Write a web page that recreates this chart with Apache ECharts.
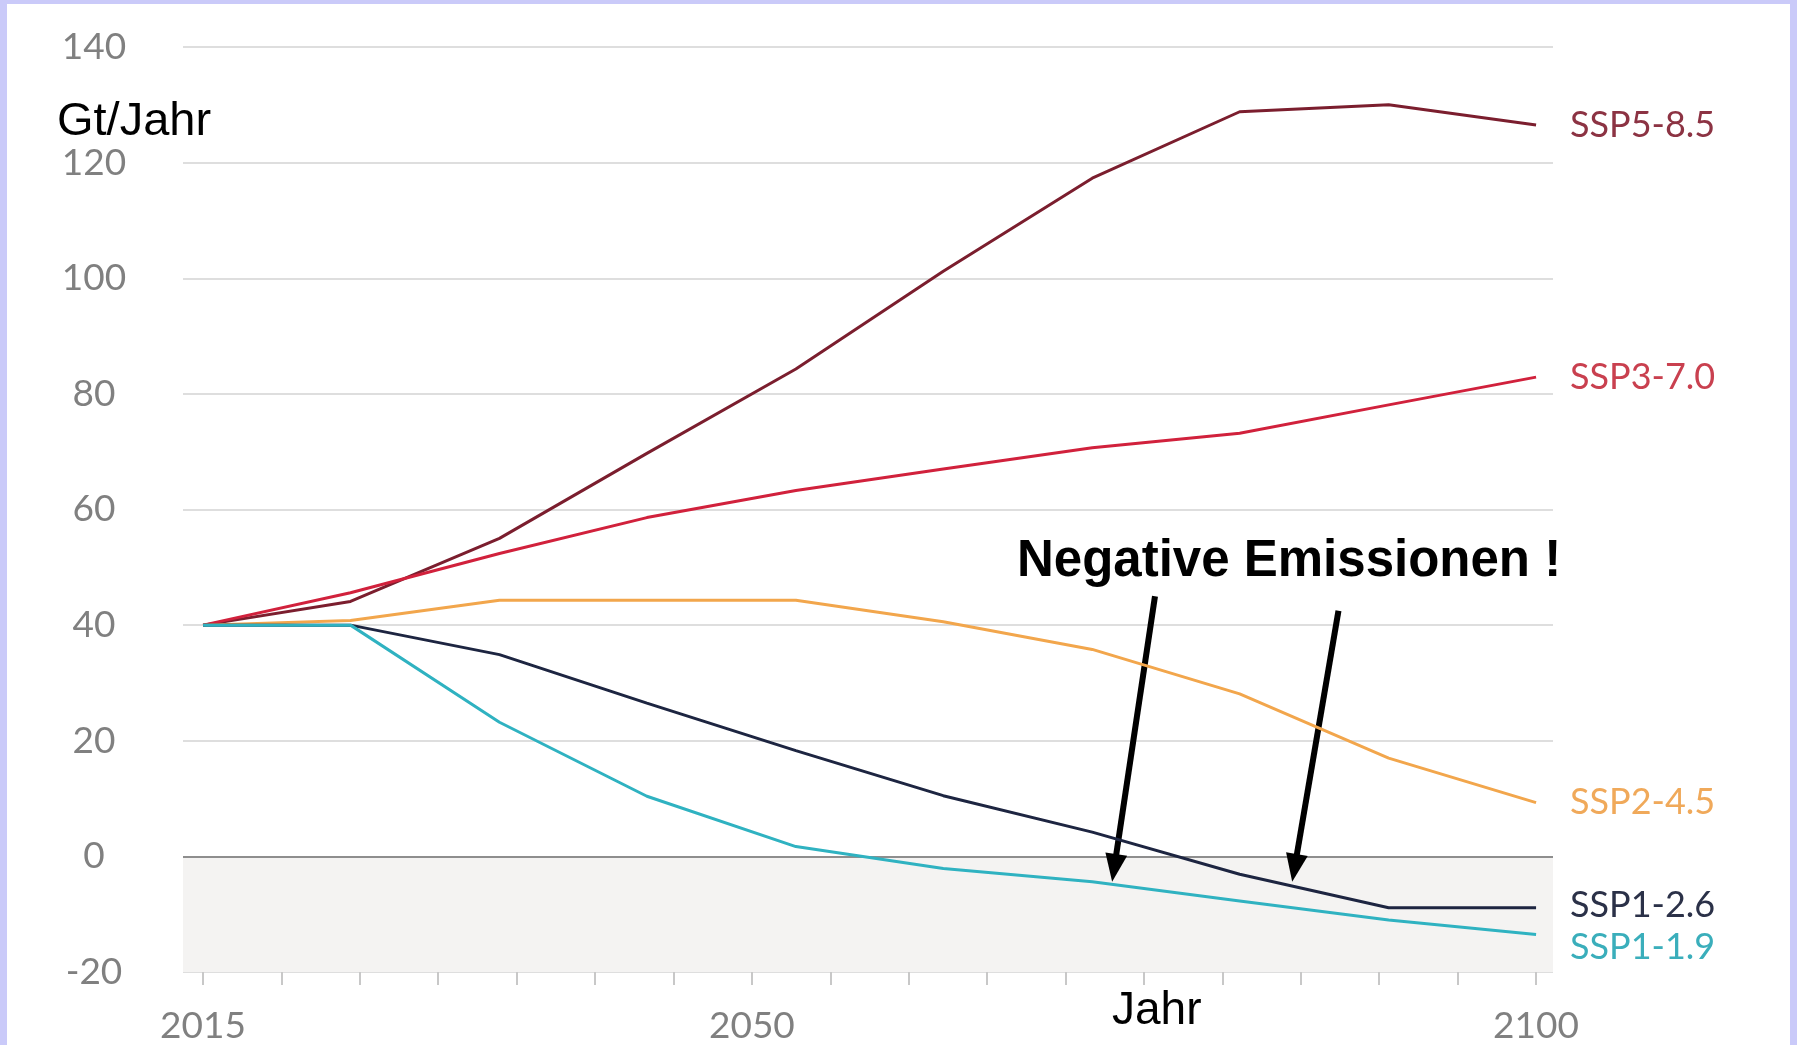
<!DOCTYPE html>
<html>
<head>
<meta charset="utf-8">
<script src="https://cdn.jsdelivr.net/npm/echarts@6/dist/echarts.min.js"></script>
<style>
  html, body { margin: 0; padding: 0; background: #cacaf9; width: 1797px; height: 1045px; overflow: hidden; }
  #chart { position: absolute; left: 7px; top: 4px; width: 1783px; height: 1041px; background: #ffffff; }
</style>
</head>
<body>
<div id="chart"></div>
<script>
// ---- data ----
const years = [2015, 2024.4, 2033.9, 2043.3, 2052.8, 2062.2, 2071.7, 2081.1, 2090.6, 2100];
const ssp585 = [40, 44.1, 55.0, 69.7, 84.3, 101.2, 117.3, 128.8, 130.0, 126.5];
const ssp370 = [40, 45.6, 52.4, 58.6, 63.3, 67.0, 70.7, 73.2, 78.1, 82.9];
const ssp245 = [40, 40.8, 44.3, 44.3, 44.3, 40.6, 35.8, 28.1, 17.0, 9.3];
const ssp126 = [40, 40.0, 34.9, 26.5, 18.3, 10.5, 4.2, -3.1, -8.9, -8.9];
const ssp119 = [40, 40.0, 23.2, 10.4, 1.7, -2.1, -4.4, -7.7, -11.0, -13.5];
const seriesNames = ['SSP5-8.5', 'SSP3-7.0', 'SSP2-4.5', 'SSP1-2.6', 'SSP1-1.9'];
const xLabelYears = [2015, 2050, 2100];
const yMin = -20, yMax = 140, yStep = 20;
const xMin = 2015, xMax = 2100, xStep = 5;
const xPadMin = 2013.72, xPadMax = 2101.08;
// annotation arrows: [startYear, startValue, endYear, endValue]
const arrow1 = [2075.7, 45.0, 2073.1, -2.0];
const arrow2 = [2087.4, 42.5, 2084.6, -2.0];
const yTitle = 'Gt/Jahr', xTitle = 'Jahr', note = 'Negative Emissionen !';

const values = [ssp585, ssp370, ssp245, ssp126, ssp119];
const lineColors = ['#7b1e2e', '#d1213c', '#f2a64c', '#1d2541', '#2fb2c1'];
const labelColors = ['#8c3343', '#c9404f', '#f0a95a', '#2b3148', '#3aaebb'];
const labelOffsets = [[0, 0], [0, 0], [0, 0], [0, -2], [0, 13]];

const chart = echarts.init(document.getElementById('chart'));

const lineSeries = values.map((vals, i) => ({
  type: 'line',
  name: seriesNames[i],
  xAxisIndex: 0, yAxisIndex: 0,
  data: years.map((y, k) => [y, vals[k]]),
  symbol: 'none',
  smooth: false,
  z: 5,
  lineStyle: { color: lineColors[i], width: 3 },
  itemStyle: { color: lineColors[i] },
  endLabel: {
    show: true, formatter: '{a}', distance: 34,
    color: labelColors[i], fontSize: 36, fontFamily: 'Lato',
    offset: labelOffsets[i]
  },
  emphasis: { disabled: true }
}));

const option = {
  animation: false,
  backgroundColor: '#ffffff',
  grid: [
    { left: 176, right: 237, top: 43, bottom: 73 },
    { left: 196, right: 254, top: 43, bottom: 73 }
  ],
  xAxis: [
    { gridIndex: 0, type: 'value', min: xPadMin, max: xPadMax, show: false },
    {
      gridIndex: 1, type: 'value', min: xMin, max: xMax, interval: xStep,
      position: 'bottom',
      axisLine: { show: true, onZero: false, lineStyle: { color: '#d8d8d8', width: 2, opacity: 0 } },
      axisTick: { show: true, length: 14, lineStyle: { color: '#c8c8c8', width: 2, opacity: 1 } },
      splitLine: { show: false },
      axisLabel: {
        fontSize: 37, fontFamily: 'Lato', color: '#808080', margin: 37,
        showMinLabel: true, showMaxLabel: true,
        formatter: v => (xLabelYears.indexOf(v) >= 0 ? String(v) : '')
      }
    }
  ],
  yAxis: [
    {
      gridIndex: 0, type: 'value', min: yMin, max: yMax, interval: yStep,
      axisLine: { show: false }, axisTick: { show: false },
      splitLine: { lineStyle: { color: '#dedede', width: 2 } },
      axisLabel: { fontSize: 37, fontFamily: 'Lato', color: '#808080', align: 'center', margin: 89 }
    },
    { gridIndex: 1, type: 'value', min: yMin, max: yMax, interval: yStep, show: false }
  ],
  graphic: [
    { type: 'text', x: 50, y: 118, style: { text: yTitle, fontSize: 47, fontFamily: 'Liberation Sans, Arial', fill: '#000', verticalAlign: 'middle' } },
    { type: 'text', x: 1105, y: 1007, style: { text: xTitle, fontSize: 46, fontFamily: 'Liberation Sans, Arial', fill: '#000', verticalAlign: 'middle' } },
    { type: 'text', x: 1010, y: 558, style: { text: note, fontSize: 51, fontWeight: 'bold', fontFamily: 'Liberation Sans, Arial', fill: '#000', verticalAlign: 'middle' } }
  ],
  series: [
    {
      type: 'line', name: 'area', xAxisIndex: 0, yAxisIndex: 0, data: [], z: 1,
      silent: true,
      markArea: {
        silent: true,
        itemStyle: { color: '#f4f3f2' },
        data: [[{ yAxis: 0 }, { yAxis: yMin }]]
      },
      markLine: {
        silent: true, symbol: ['none', 'none'], label: { show: false },
        lineStyle: { color: '#8e8e8e', width: 2, type: 'solid' },
        data: [{ yAxis: 0 }]
      }
    },
    ...lineSeries,
    {
      type: 'line', name: 'arrows', xAxisIndex: 0, yAxisIndex: 0, data: [], z: 10,
      silent: true,
      markLine: {
        silent: true,
        symbol: ['none', 'triangle'], symbolSize: [22, 28],
        label: { show: false },
        lineStyle: { color: '#000000', width: 6, type: 'solid' },
        emphasis: { disabled: true },
        data: [
          [{ coord: [arrow1[0], arrow1[1]] }, { coord: [arrow1[2], arrow1[3]] }],
          [{ coord: [arrow2[0], arrow2[1]] }, { coord: [arrow2[2], arrow2[3]] }]
        ]
      }
    }
  ]
};
chart.setOption(option);
</script>
</body>
</html>
